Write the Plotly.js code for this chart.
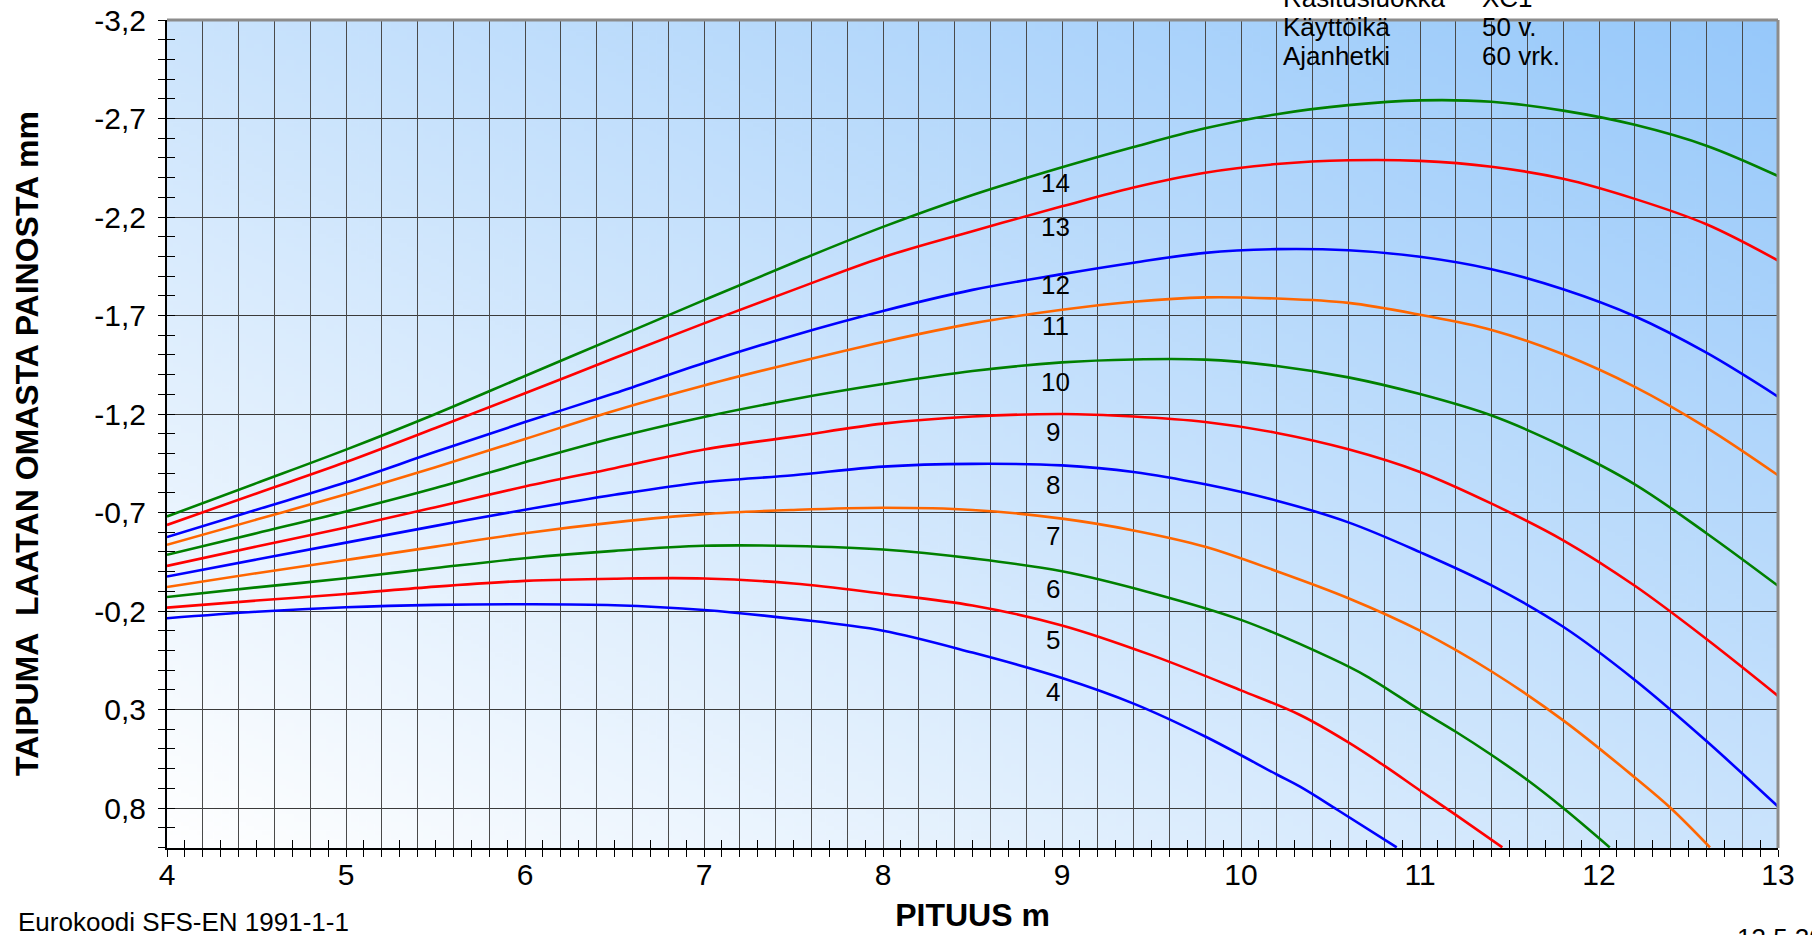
<!DOCTYPE html>
<html>
<head>
<meta charset="utf-8">
<script src="https://cdn.plot.ly/plotly-3.0.1.min.js"></script>
<style>html,body{margin:0;padding:0;background:#fff;}#chart{width:1812px;height:935px;}</style>
</head>
<body>
<div id="chart"></div>
<script>
// ---- data ----
const curveNames = ['4','5','6','7','8','9','10','11','12','13','14'];
const curveColors = ['#0000FF','#FF0000','#008000','#FF6600','#0000FF','#FF0000','#008000','#FF6600','#0000FF','#FF0000','#008000'];

const xCommon = [4,4.5,5,5.5,6,6.5,7,7.5,8,8.5,9,9.4,9.8,10.2,10.6,11,11.4,11.8,12.2,12.6,13];

const x4 = [4,4.5,5,5.5,6,6.5,7,7.5,8,8.5,9,9.4,9.8,10.2,10.33,10.54,10.87];
const y4 = [-0.163,-0.196,-0.219,-0.231,-0.234,-0.229,-0.205,-0.160,-0.100,0.011,0.140,0.270,0.437,0.630,0.692,0.810,1.0];

const x5 = [4,4.5,5,5.5,6,6.5,7,7.5,8,8.5,9,9.5,10,10.33,10.6,10.8,11,11.2,11.46];
const y5 = [-0.217,-0.253,-0.286,-0.324,-0.353,-0.364,-0.365,-0.340,-0.288,-0.228,-0.127,0.024,0.203,0.328,0.467,0.585,0.711,0.835,1.0];

const x6 = [4,4.5,5,5.5,6,6.5,7,7.5,8,8.5,9,9.5,10,10.5,10.7,11,11.2,11.4,11.6,11.8,12.06];
const y6 = [-0.271,-0.320,-0.366,-0.418,-0.468,-0.505,-0.531,-0.530,-0.512,-0.467,-0.402,-0.292,-0.155,0.038,0.130,0.303,0.413,0.531,0.658,0.800,1.0];

const x7 = [4,4.5,5,5.5,6,6.5,7,7.5,8,8.5,9,9.4,9.8,10.2,10.6,11,11.4,11.8,12.2,12.4,12.62];
const y7 = [-0.322,-0.392,-0.459,-0.527,-0.595,-0.650,-0.692,-0.713,-0.724,-0.713,-0.669,-0.609,-0.526,-0.402,-0.265,-0.100,0.107,0.355,0.645,0.800,1.0];

const y8  = [-0.375,-0.461,-0.547,-0.632,-0.714,-0.790,-0.854,-0.889,-0.933,-0.947,-0.939,-0.906,-0.843,-0.760,-0.650,-0.499,-0.330,-0.120,0.150,0.460,0.793];
const y9  = [-0.429,-0.527,-0.624,-0.727,-0.832,-0.925,-1.020,-1.085,-1.151,-1.187,-1.200,-1.187,-1.159,-1.104,-1.021,-0.906,-0.745,-0.559,-0.328,-0.058,0.231];
const y10 = [-0.485,-0.595,-0.705,-0.824,-0.955,-1.079,-1.185,-1.275,-1.352,-1.418,-1.462,-1.477,-1.476,-1.444,-1.386,-1.301,-1.192,-1.035,-0.843,-0.595,-0.328];
const y11 = [-0.536,-0.664,-0.793,-0.930,-1.073,-1.217,-1.345,-1.459,-1.566,-1.660,-1.729,-1.770,-1.792,-1.786,-1.764,-1.704,-1.627,-1.503,-1.338,-1.131,-0.889];
const y12 = [-0.575,-0.714,-0.853,-1.008,-1.159,-1.305,-1.459,-1.599,-1.723,-1.830,-1.910,-1.968,-2.018,-2.037,-2.031,-1.998,-1.935,-1.833,-1.696,-1.511,-1.288];
const y13 = [-0.637,-0.797,-0.956,-1.129,-1.305,-1.484,-1.660,-1.830,-1.996,-2.128,-2.254,-2.350,-2.425,-2.469,-2.488,-2.485,-2.455,-2.394,-2.292,-2.163,-1.979];
const y14 = [-0.680,-0.849,-1.019,-1.200,-1.393,-1.585,-1.778,-1.968,-2.150,-2.312,-2.452,-2.555,-2.650,-2.722,-2.768,-2.792,-2.785,-2.740,-2.668,-2.562,-2.408];

// curve label positions (number written on each curve)
const labelX = [8.95,8.95,8.95,8.95,8.95,8.95,8.965,8.965,8.965,8.965,8.965];
const labelY = [0.211,-0.053,-0.314,-0.581,-0.840,-1.109,-1.365,-1.646,-1.855,-2.150,-2.375];

const yTickVals = [-3.2,-2.7,-2.2,-1.7,-1.2,-0.7,-0.2,0.3,0.8];
const yTickText = ['-3,2','-2,7','-2,2','-1,7','-1,2','-0,7','-0,2','0,3','0,8'];
const xTickVals = [4,5,6,7,8,9,10,11,12,13];
const xTickText = ['4','5','6','7','8','9','10','11','12','13'];

const infoLeft = ['Rasitusluokka','Käyttöikä','Ajanhetki'];
const infoRight = ['XC1','50 v.','60 vrk.'];

// ---- build ----
const FONT = 'Liberation Sans, Arial, sans-serif';
const seriesX = [x4,x5,x6,x7,xCommon,xCommon,xCommon,xCommon,xCommon,xCommon,xCommon];
const seriesY = [y4,y5,y6,y7,y8,y9,y10,y11,y12,y13,y14];

const traces = curveNames.map((n,i)=>({
  type:'scatter', mode:'lines', name:n,
  x: seriesX[i], y: seriesY[i],
  line:{color:curveColors[i], width:2.6, shape:'spline', smoothing:1.0},
  hoverinfo:'x+y+name'
}));
// empty helper trace so the overlay (tick/grid) axes exist
traces.push({type:'scatter', mode:'lines', x:[], y:[], xaxis:'x2', yaxis:'y2', showlegend:false, hoverinfo:'skip'});

// gradient background image
const cv = document.createElement('canvas');
cv.width = 400; cv.height = 400;
const ctx = cv.getContext('2d');
const g = ctx.createLinearGradient(0,400,400,0);
g.addColorStop(0,'#FFFFFF');
g.addColorStop(1,'#96C8FA');
ctx.fillStyle = g; ctx.fillRect(0,0,400,400);

const W=1812, H=935, L=167, R=34, T=20, B=87;
const pw = W-L-R, ph = H-T-B;
const px = v => (v-L)/pw;
const py = v => 1-(v-T)/ph;

const annotations = [];
curveNames.forEach((n,i)=>annotations.push({
  x:labelX[i], y:labelY[i], xref:'x', yref:'y', text:n, showarrow:false,
  xanchor:'center', yanchor:'middle', font:{family:FONT, size:26, color:'#000'}
}));
const infoY = [-2,27,56];
infoLeft.forEach((t,i)=>{
  annotations.push({x:px(1281), y:py(infoY[i]), xref:'paper', yref:'paper', text:t, showarrow:false,
    xanchor:'left', yanchor:'middle', font:{family:FONT,size:26,color:'#000'}});
  annotations.push({x:px(1480), y:py(infoY[i]), xref:'paper', yref:'paper', text:infoRight[i], showarrow:false,
    xanchor:'left', yanchor:'middle', font:{family:FONT,size:26,color:'#000'}});
});
annotations.push({x:px(16), y:py(922), xref:'paper', yref:'paper', text:'Eurokoodi SFS-EN 1991-1-1', showarrow:false,
  xanchor:'left', yanchor:'middle', font:{family:FONT,size:26,color:'#000'}});
annotations.push({x:px(1735), y:py(938), xref:'paper', yref:'paper', text:'13.5.2011', showarrow:false,
  xanchor:'left', yanchor:'middle', font:{family:FONT,size:26,color:'#000'}});
// y-axis title (placed as rotated text to match the reference position)
annotations.push({x:px(27), y:py(444), xref:'paper', yref:'paper', text:'<b>TAIPUMA \u00A0LAATAN OMASTA PAINOSTA mm</b>',
  textangle:-90, showarrow:false, xanchor:'center', yanchor:'middle', font:{family:FONT,size:32,color:'#000'}});

const layout = {
  width:W, height:H,
  margin:{l:L, r:R, t:T, b:B, pad:0},
  paper_bgcolor:'#FFFFFF', plot_bgcolor:'rgba(0,0,0,0)',
  showlegend:false,
  font:{family:FONT, color:'#000'},
  xaxis:{
    range:[4,13], tickmode:'array', tickvals:xTickVals, ticktext:xTickText,
    ticks:'outside', ticklen:7, tickwidth:1, tickcolor:'#000',
    minor:{tickmode:'linear', tick0:4, dtick:0.1, ticks:'outside', ticklen:7, tickwidth:1, tickcolor:'#000', showgrid:false},
    showgrid:false, zeroline:false, showline:true, linecolor:'#000', linewidth:2,
    tickfont:{family:FONT, size:30, color:'#000'}, ticklabelstandoff:-8,
    title:{text:'<b>PITUUS m</b>', font:{family:FONT, size:32, color:'#000'}, standoff:14},
    automargin:false
  },
  yaxis:{
    range:[1.003,-3.2], tickmode:'array', tickvals:yTickVals, ticktext:yTickText,
    ticks:'outside', ticklen:7, tickwidth:1, tickcolor:'#000',
    minor:{tickmode:'linear', tick0:-3.2, dtick:0.1, ticks:'outside', ticklen:7, tickwidth:1, tickcolor:'#000', showgrid:false},
    showgrid:true, gridcolor:'#3a3a3a', gridwidth:1,
    zeroline:false, showline:true, linecolor:'#000', linewidth:2,
    tickfont:{family:FONT, size:30, color:'#000'}, ticklabelstandoff:6,
    automargin:false
  },
  xaxis2:{
    overlaying:'x', anchor:'y2', range:[4,13], tickmode:'linear', tick0:4, dtick:0.2,
    showgrid:true, gridcolor:'#4a4a4a', gridwidth:1, ticks:'', showticklabels:false,
    minor:{tickmode:'linear', tick0:4, dtick:0.1, ticks:'inside', ticklen:8, tickwidth:1, tickcolor:'#000', showgrid:false},
    zeroline:false, showline:false
  },
  yaxis2:{
    overlaying:'y', anchor:'x2', side:'left', range:[1.003,-3.2], tickmode:'linear', tick0:-3.2, dtick:0.1,
    ticks:'inside', ticklen:8, tickwidth:1, tickcolor:'#000', showticklabels:false,
    showgrid:false, zeroline:false, showline:false
  },
  images:[{source:cv.toDataURL('image/png'), xref:'paper', yref:'paper', x:0, y:1, sizex:1, sizey:1,
    xanchor:'left', yanchor:'top', sizing:'stretch', layer:'below'}],
  shapes:[
    {type:'line', xref:'paper', yref:'paper', x0:0, x1:1, y0:1, y1:1, line:{color:'#8c8c8c', width:3}},
    {type:'line', xref:'paper', yref:'paper', x0:1, x1:1, y0:0, y1:1, line:{color:'#8c8c8c', width:3}}
  ],
  annotations:annotations
};

Plotly.newPlot('chart', traces, layout, {displayModeBar:false, staticPlot:true});
</script>
</body>
</html>
